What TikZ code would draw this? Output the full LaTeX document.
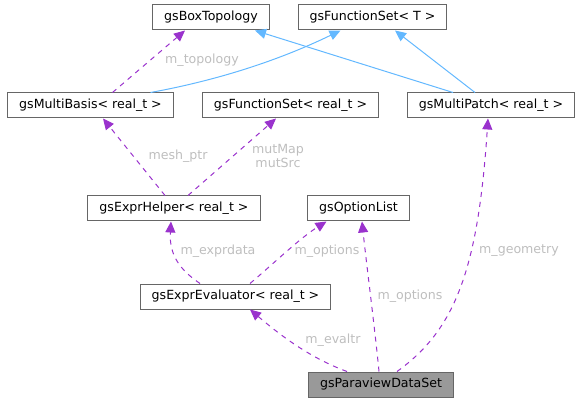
\documentclass[tikz,border=0pt]{standalone}
\usepackage{fontspec}
\setmainfont{DejaVu Sans}
\usetikzlibrary{arrows.meta}
\definecolor{edgepurple}{HTML}{9A32CD}
\definecolor{edgeblue}{HTML}{63B8FF}
\definecolor{boxgray}{HTML}{666666}
\definecolor{lblgray}{HTML}{BEBEBE}
\definecolor{curgray}{HTML}{999999}

\begin{document}
\begin{tikzpicture}[x=1pt,y=-1pt,line width=1pt,
  cls/.style={draw=boxgray,fill=white,minimum height=25pt,inner xsep=11.5pt,inner ysep=0pt,
    font=\fontsize{12.6}{14}\selectfont},
  cur/.style={cls,fill=curgray},
  usage/.style={draw=edgepurple,dash pattern=on 5pt off 5pt,-{Triangle[length=11pt,width=10pt]}},
  inherit/.style={draw=edgeblue,-{Triangle[length=11pt,width=10pt]}},
  lbl/.style={text=lblgray,align=center,font=\fontsize{12.6}{14}\selectfont}]
  \useasboundingbox (0,0) rectangle (583,403);
  % classes
  \node[cls] (bt) at (211,17.5) {gsBoxTopology};
  \node[cls] (fsT) at (372.5,17.5) {gsFunctionSet< T >};
  \node[cls] (mb) at (90.5,105.5) {gsMultiBasis< real\_t >};
  \node[cls] (fsR) at (290.5,105.5) {gsFunctionSet< real\_t >};
  \node[cls] (mp) at (491,105.5) {gsMultiPatch< real\_t >};
  \node[cls] (eh) at (174,208.5) {gsExprHelper< real\_t >};
  \node[cls] (ol) at (358.5,208.5) {gsOptionList};
  \node[cls] (ee) at (235.5,296.5) {gsExprEvaluator< real\_t >};
  \node[cur] (pv) at (381,384.5) {gsParaviewDataSet};
  % inheritance
  \draw[inherit] ([xshift=60]mb.north) .. controls (230,78) and (290,55) .. ([xshift=-32]fsT.south);
  \draw[inherit] ([xshift=-38]mp.north) -- ([xshift=44]bt.south);
  \draw[inherit] ([xshift=-16]mp.north) -- ([xshift=22.5]fsT.south);
  % members
  \draw[usage] ([xshift=22]mb.north) -- ([xshift=-26]bt.south);
  \draw[usage] ([xshift=-9]eh.north) -- ([xshift=12.5]mb.south);
  \draw[usage] ([xshift=14]eh.north) -- ([xshift=-14.5]fsR.south);
  \draw[usage] ([xshift=-35.5]ee.north) .. controls (180,270) and (169,255) .. ([xshift=-3]eh.south);
  \draw[usage] ([xshift=14.5]ee.north) .. controls (272,265) and (300,238) .. ([xshift=-32]ol.south);
  \draw[usage] ([xshift=-34]pv.north) .. controls (310,358) and (280,335) .. ([xshift=14.5]ee.south);
  \draw[usage] ([xshift=-2]pv.north) .. controls (375,330) and (366,260) .. ([xshift=3.5]ol.south);
  \draw[usage] ([xshift=16]pv.north) .. controls (455,330) and (478,270) .. ([xshift=-3]mp.south);
  % labels
  \node[lbl] (ltopo) at (202,60) {m\_topology};
  \node[lbl] (lmesh) at (178,156) {mesh\_ptr};
  \node[lbl] (lmut) at (278,156) {mutMap\\mutSrc};
  \node[lbl] (lexpr) at (218,251) {m\_exprdata};
  \node[lbl] (lopt) at (327,251) {m\_options};
  \node[lbl] (lopt2) at (410,296) {m\_options};
  \node[lbl] (leval) at (333,340) {m\_evaltr};
  \node[lbl] (lgeo) at (519,251) {m\_geometry};
\end{tikzpicture}
\end{document}
